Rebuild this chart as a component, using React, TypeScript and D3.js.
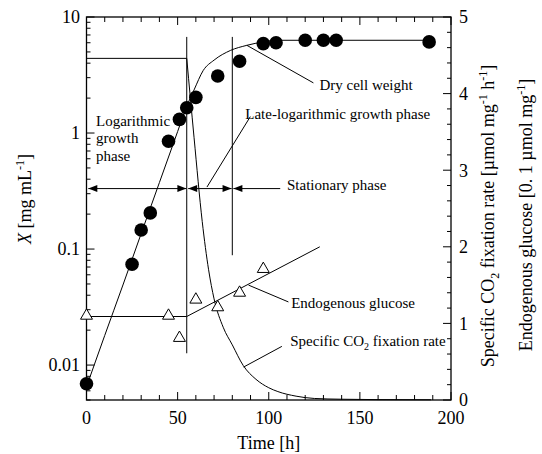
import React, { useEffect, useRef } from "react";
import * as d3 from "d3";

// dry cell weight X [mg/mL], filled circles
const cellTime = [0, 25, 30, 35, 45, 51, 55, 60, 72, 84, 97, 104, 120, 130, 137, 188];
const cellWeight = [0.0069, 0.074, 0.146, 0.205, 0.85, 1.31, 1.65, 2.03, 3.1, 4.16, 5.9, 6.0, 6.3, 6.3, 6.3, 6.1];

// fitted growth curve
const cellFitTime = [0, 10, 20, 30, 40, 50, 55, 59, 64, 70, 79, 88, 97, 105, 120, 189];
const cellFit = [0.0065, 0.018, 0.049, 0.136, 0.374, 1.03, 1.7, 2.35, 3.45, 4.25, 5.15, 5.7, 6.1, 6.3, 6.3, 6.3];

// endogenous glucose [0.1 umol/mg], open triangles
const glucoseTime = [0, 45, 51, 60, 72, 84, 97];
const glucose = [1.1, 1.1, 0.81, 1.31, 1.21, 1.4, 1.71];
const glucoseFitTime = [0, 55, 128];
const glucoseFit = [1.09, 1.09, 2.0];

// specific CO2 fixation rate [umol/mg/h]
const co2PlateauTime = [0, 55];
const co2Plateau = [4.46, 4.46];
const co2Time = [55, 59, 63.5, 67, 70, 75, 80, 86, 93, 100, 105, 115, 125, 140, 160, 189];
const co2Rate = [4.46, 3.43, 2.33, 1.7, 1.32, 0.95, 0.72, 0.45, 0.27, 0.16, 0.11, 0.05, 0.02, 0.01, 0.005, 0.003];

// phase boundaries
const phaseTimes = [55, 80];
const phaseTop = [4.74, 4.74];
const phaseBottom = [0.61, 1.89];

const xTicks = [0, 50, 100, 150, 200];
const leftTicks = [10, 1, 0.1, 0.01];
const leftTickText = ["10", "1", "0.1", "0.01"];
const rightTicks = [0, 1, 2, 3, 4, 5];

const FONT = "Liberation Serif, Times New Roman, serif";

export default function App() {
  const ref = useRef<SVGSVGElement>(null);

  useEffect(() => {
    const svg = d3.select(ref.current);
    svg.selectAll("*").remove();

    const left = 86.5, right = 451, top = 17, bottom = 400;
    const x = d3.scaleLinear().domain([0, 200]).range([left, right]);
    const yL = d3.scaleLog().domain([0.005, 10]).range([bottom, top]);
    const yR = d3.scaleLinear().domain([0, 5]).range([bottom, top]);

    const g = svg.append("g").attr("font-family", FONT);

    // frame
    g.append("rect")
      .attr("x", left)
      .attr("y", top)
      .attr("width", right - left)
      .attr("height", bottom - top)
      .attr("fill", "none")
      .attr("stroke", "black")
      .attr("stroke-width", 1.3);

    // x ticks top & bottom
    d3.range(0, 201, 10).forEach((t) => {
      const len = t % 50 === 0 ? 8 : 5;
      g.append("line").attr("x1", x(t)).attr("x2", x(t)).attr("y1", bottom).attr("y2", bottom - len).attr("stroke", "black");
      g.append("line").attr("x1", x(t)).attr("x2", x(t)).attr("y1", top).attr("y2", top + len).attr("stroke", "black");
    });
    xTicks.forEach((t) => {
      g.append("text")
        .attr("x", x(t))
        .attr("y", 424)
        .attr("text-anchor", "middle")
        .attr("font-size", 18)
        .text(t);
    });

    // left log ticks
    [0.001, 0.01, 0.1, 1, 10].forEach((d) => {
      d3.range(1, 10).forEach((m) => {
        const v = m * d;
        if (v < 0.005 - 1e-9 || v > 10 + 1e-9) return;
        const len = m === 1 ? 8 : 4;
        g.append("line").attr("x1", left).attr("x2", left + len).attr("y1", yL(v)).attr("y2", yL(v)).attr("stroke", "black");
      });
    });
    leftTicks.forEach((v, i) => {
      g.append("text")
        .attr("x", 80)
        .attr("y", yL(v))
        .attr("dy", "0.35em")
        .attr("text-anchor", "end")
        .attr("font-size", 18)
        .text(leftTickText[i]);
    });

    // right linear ticks
    d3.range(0, 26).forEach((k) => {
      const v = k * 0.2;
      const len = k % 5 === 0 ? 8 : 4;
      g.append("line").attr("x1", right).attr("x2", right - len).attr("y1", yR(v)).attr("y2", yR(v)).attr("stroke", "black");
    });
    rightTicks.forEach((v) => {
      g.append("text")
        .attr("x", 459)
        .attr("y", yR(v))
        .attr("dy", "0.35em")
        .attr("font-size", 18)
        .text(v);
    });

    // axis titles
    g.append("text")
      .attr("x", x(100))
      .attr("y", 449)
      .attr("text-anchor", "middle")
      .attr("font-size", 18)
      .text("Time [h]");

    const lt = g.append("text")
      .attr("transform", "translate(31,199) rotate(-90)")
      .attr("text-anchor", "middle")
      .attr("font-size", 18);
    lt.append("tspan").attr("font-style", "italic").text("X");
    lt.append("tspan").text(" [mg mL");
    lt.append("tspan").attr("font-size", 12).attr("dy", -7).text("-1");
    lt.append("tspan").attr("dy", 7).text("]");

    const r1 = g.append("text")
      .attr("transform", "translate(494,216) rotate(-90)")
      .attr("text-anchor", "middle")
      .attr("font-size", 18);
    r1.append("tspan").text("Specific CO");
    r1.append("tspan").attr("font-size", 12).attr("dy", 5).text("2");
    r1.append("tspan").attr("dy", -5).text(" fixation rate [\u00b5mol mg");
    r1.append("tspan").attr("font-size", 12).attr("dy", -7).text("-1");
    r1.append("tspan").attr("dy", 7).text(" h");
    r1.append("tspan").attr("font-size", 12).attr("dy", -7).text("-1");
    r1.append("tspan").attr("dy", 7).text("]");

    const r2 = g.append("text")
      .attr("transform", "translate(532,215) rotate(-90)")
      .attr("text-anchor", "middle")
      .attr("font-size", 18);
    r2.append("tspan").text("Endogenous glucose [0. 1 \u00b5mol mg");
    r2.append("tspan").attr("font-size", 12).attr("dy", -7).text("-1");
    r2.append("tspan").attr("dy", 7).text("]");

    // fitted lines
    const cellLine = d3
      .line<number>()
      .x((_, i) => x(cellFitTime[i]))
      .y((d) => yL(d))
      .curve(d3.curveMonotoneX);
    g.append("path").attr("d", cellLine(cellFit)).attr("fill", "none").attr("stroke", "black").attr("stroke-width", 1);

    const rLine = (ts: number[]) =>
      d3.line<number>().x((_, i) => x(ts[i])).y((d) => yR(d));
    g.append("path").attr("d", rLine(co2PlateauTime)(co2Plateau)).attr("fill", "none").attr("stroke", "black");
    g.append("path")
      .attr("d", rLine(co2Time).curve(d3.curveMonotoneX)(co2Rate))
      .attr("fill", "none")
      .attr("stroke", "black");
    g.append("path").attr("d", rLine(glucoseFitTime)(glucoseFit)).attr("fill", "none").attr("stroke", "black");

    // phase boundaries
    phaseTimes.forEach((t, i) => {
      g.append("line")
        .attr("x1", x(t)).attr("x2", x(t))
        .attr("y1", yR(phaseTop[i])).attr("y2", yR(phaseBottom[i]))
        .attr("stroke", "black");
    });

    // markers
    g.selectAll(".cell")
      .data(cellWeight)
      .enter()
      .append("circle")
      .attr("cx", (_, i) => x(cellTime[i]))
      .attr("cy", (d) => yL(d))
      .attr("r", 6.8)
      .attr("fill", "black");

    const tri = d3.symbol().type(d3.symbolTriangle).size(62);
    g.selectAll(".glc")
      .data(glucose)
      .enter()
      .append("path")
      .attr("d", tri() as string)
      .attr("transform", (d, i) => `translate(${x(glucoseTime[i])},${yR(d)})`)
      .attr("fill", "white")
      .attr("stroke", "black")
      .attr("stroke-width", 1);

    // phase arrows
    const ay = yR(2.76);
    const head = (tip: number, dir: number) =>
      `M${tip},${ay}L${tip - dir * 9},${ay - 3.5}L${tip - dir * 9},${ay + 3.5}Z`;
    const arrow = (t0: number, t1: number, h0: boolean, h1: boolean) => {
      g.append("line").attr("x1", x(t0)).attr("x2", x(t1)).attr("y1", ay).attr("y2", ay).attr("stroke", "black");
      if (h0) g.append("path").attr("d", head(x(t0), -1)).attr("fill", "black");
      if (h1) g.append("path").attr("d", head(x(t1), 1)).attr("fill", "black");
    };
    arrow(1, 54.8, true, true);
    arrow(55.8, 79.6, true, true);
    arrow(80.6, 106.3, true, false);

    // leader lines
    const leader = (t0: number, v0: number, t1: number, v1: number) =>
      g.append("line")
        .attr("x1", x(t0)).attr("y1", yR(v0))
        .attr("x2", x(t1)).attr("y2", yR(v1))
        .attr("stroke", "black");
    leader(88, 4.63, 124.5, 4.14);
    leader(66.1, 2.78, 89.9, 3.7);
    leader(88.9, 1.5, 110.8, 1.28);
    leader(86.2, 0.43, 107.2, 0.7);

    // annotation text
    const note = (t: number, v: number, s: string) =>
      g.append("text").attr("x", x(t)).attr("y", yR(v)).attr("font-size", 15).text(s);
    note(5.2, 3.58, "Logarithmic");
    note(5.2, 3.35, "growth");
    note(5.2, 3.12, "phase");
    note(127.8, 4.05, "Dry cell weight");
    note(87.1, 3.67, "Late-logarithmic growth phase");
    note(110, 2.74, "Stationary phase");
    note(112.3, 1.2, "Endogenous glucose");
    const sp = note(111.8, 0.7, "Specific CO");
    sp.append("tspan").attr("font-size", 10).attr("dy", 4).text("2");
    sp.append("tspan").attr("dy", -4).text(" fixation rate");
  }, []);

  return (
    <svg
      ref={ref}
      width={542}
      height={454}
      style={{ position: "absolute", left: 0, top: 0, background: "white" }}
    />
  );
}
